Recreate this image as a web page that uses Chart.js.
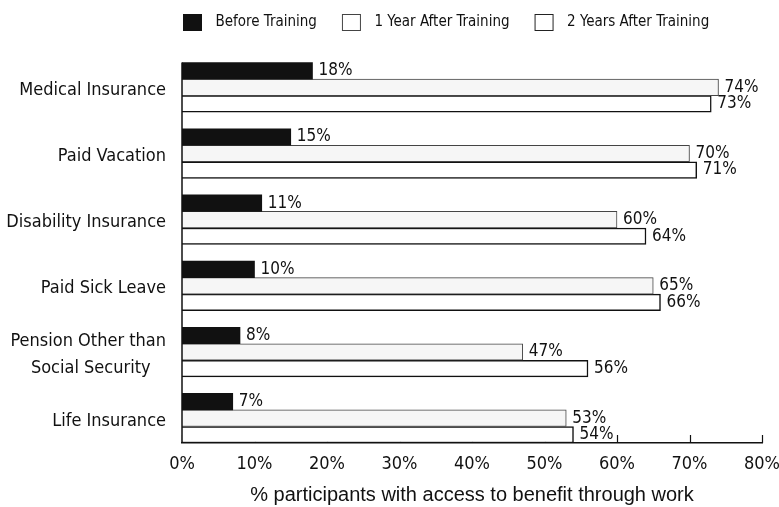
<!DOCTYPE html>
<html>
<head>
<meta charset="utf-8">
<script src="https://cdn.jsdelivr.net/npm/chart.js@4.4.1/dist/chart.umd.min.js"></script>
<style>
  body{margin:0;background:#fff;}
  canvas{display:block;}
</style>
</head>
<body>
<canvas id="myChart" width="779" height="507"></canvas>
<script>
// categories, top to bottom
const categories=[
    "Medical Insurance",
    "Paid Vacation",
    "Disability Insurance",
    "Paid Sick Leave",
    ["Pension Other than","Social Security   "],
    "Life Insurance"
];
// % of participants
const beforeTraining=[18,15,11,10,8,7];
const oneYearAfter=[74,70,60,65,47,53];
const twoYearsAfter=[73,71,64,66,56,54];
// x axis ticks
const xTicks=[0,10,20,30,40,50,60,70,80];

const condensed="'DejaVu Sans Condensed','Liberation Sans Narrow','DejaVu Sans',sans-serif";

// legend swatch: blank space left, square, blank space right
function swatch(fill,stroke){
    const c=document.createElement("canvas");
    c.width=35;c.height=19;
    const g=c.getContext("2d");
    g.fillStyle=fill;
    g.fillRect(10,1,19,17);
    if(stroke){
        g.strokeStyle=stroke;
        g.lineWidth=1;
        g.strokeRect(10.5,1.5,18,16);
    }
    return c;
}
const swatches=[null,swatch("#111"),swatch("#fff","#444"),swatch("#fff","#222")];

// value labels next to the bars + axis details
const barLabels={
    id:"barLabels",
    beforeDatasetsDraw(chart){
        const {ctx,scales:{x}}=chart;
        const y0=x.top;
        ctx.save();
        ctx.strokeStyle="#111";
        ctx.lineWidth=1.2;
        xTicks.forEach(v=>{
            const px=Math.round(x.getPixelForValue(v))+0.5;
            ctx.beginPath();
            ctx.moveTo(px,y0);
            ctx.lineTo(px,y0-8);
            ctx.stroke();
        });
        ctx.restore();
    },
    afterDatasetsDraw(chart){
        const {ctx}=chart;
        ctx.save();
        // y axis line starting at first bar
        const first=chart.getDatasetMeta(1).data[0];
        const left=chart.chartArea.left;
        ctx.strokeStyle="#111";
        ctx.lineWidth=1.5;
        ctx.beginPath();
        ctx.moveTo(left,first.y-first.height/2);
        ctx.lineTo(left,chart.chartArea.bottom);
        ctx.stroke();
        ctx.font="17px "+condensed;
        ctx.fillStyle="#111";
        ctx.textBaseline="middle";
        ctx.textAlign="left";
        for(let d=1;d<chart.data.datasets.length;d++){
            const meta=chart.getDatasetMeta(d);
            meta.data.forEach((bar,i)=>{
                ctx.fillText(chart.data.datasets[d].data[i]+"%",bar.x+6,bar.y);
            });
        }
        ctx.restore();
    }
};

// fixed legend height, legend row moved over the plot like in the original
const legendPlace={
    id:"legendPlace",
    afterInit(chart){
        const lg=chart.legend;
        const fit=lg.fit.bind(lg);
        lg.fit=function(){fit();this.height=46;};
        const draw=lg.draw.bind(lg);
        lg.draw=function(){
            const hb=this.legendHitBoxes;
            const dx=hb&&hb.length?173-hb[0].left:0;
            this.ctx.save();
            this.ctx.translate(dx,0);
            draw();
            this.ctx.restore();
        };
    }
};

const data={
    labels:categories,
    datasets:[
        // empty slot on top of each group
        {label:"",data:categories.map(()=>null),backgroundColor:"rgba(0,0,0,0)"},
        {label:"Before Training",data:beforeTraining,backgroundColor:"#111",borderWidth:0},
        {label:"1 Year After Training",data:oneYearAfter,backgroundColor:"#f6f6f6",borderColor:"#444",borderWidth:1},
        {label:"2 Years After Training",data:twoYearsAfter,backgroundColor:"#fff",borderColor:"#111",borderWidth:1.5}
    ]
};

const config={
    type:"bar",
    data:data,
    plugins:[barLabels,legendPlace],
    options:{
        indexAxis:"y",
        responsive:false,
        animation:false,
        categoryPercentage:1,
        barPercentage:1,
        layout:{padding:{left:0,right:17,top:0,bottom:0}},
        plugins:{
            tooltip:{enabled:false},
            legend:{
                position:"top",
                labels:{
                    usePointStyle:true,
                    pointStyleWidth:35,
                    padding:15,
                    color:"#111",
                    font:{family:condensed,size:15},
                    generateLabels(chart){
                        const items=Chart.defaults.plugins.legend.labels.generateLabels(chart);
                        items.forEach(it=>{it.pointStyle=swatches[it.datasetIndex];});
                        return items.filter(it=>it.datasetIndex>0);
                    }
                }
            }
        },
        scales:{
            x:{
                min:0,
                max:80,
                grid:{display:false},
                border:{display:true,color:"#111",width:1.5},
                afterFit(s){s.height=64;s.paddingLeft=0;s.paddingRight=0;},
                ticks:{
                    stepSize:10,
                    padding:3,
                    color:"#111",
                    font:{family:condensed,size:18},
                    callback:function(value){
                        return value+"%";
                    }
                },
                title:{
                    display:true,
                    text:"% participants with access to benefit through work",
                    color:"#111",
                    font:{family:"'Liberation Sans',sans-serif",size:20},
                    padding:{top:0,bottom:0}
                }
            },
            y:{
                grid:{display:false},
                border:{display:false},
                afterFit(s){s.width=182;},
                ticks:{
                    padding:8,
                    labelOffset:11,
                    color:"#111",
                    font:{family:condensed,size:18,lineHeight:1.5}
                }
            }
        }
    }
};
const myChart=new Chart(document.getElementById("myChart").getContext("2d"),config);
</script>
</body>
</html>
